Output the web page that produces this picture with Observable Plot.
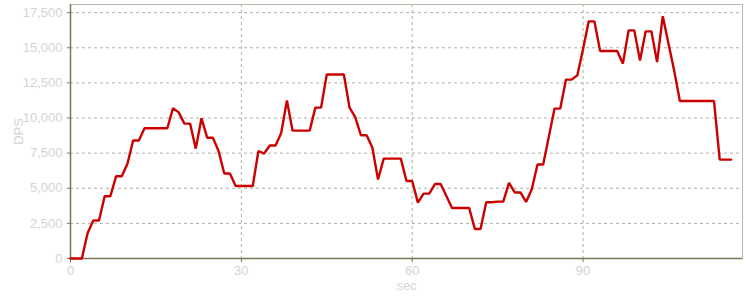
<!DOCTYPE html>
<html><head><meta charset="utf-8">
<script src="https://cdn.jsdelivr.net/npm/d3@7"></script>
<script src="https://cdn.jsdelivr.net/npm/@observablehq/plot@0.6"></script>
<style>
body{margin:0;background:#fff;}
#chart svg{font-family:"Liberation Sans",Arial,sans-serif;}
</style>
</head><body><div id="chart"></div>
<script>
const seconds = d3.range(0, 117);
const dps = [
  0, 0, 0, 1800, 2700, 2700, 4430, 4430, 5850, 5850,
  6750, 8400, 8400, 9270, 9270, 9270, 9270, 9270, 10700, 10400,
  9600, 9600, 7820, 9980, 8600, 8600, 7650, 6050, 6050, 5160,
  5160, 5160, 5160, 7650, 7470, 8040, 8040, 8930, 11250, 9100,
  9100, 9100, 9100, 10740, 10740, 13100, 13100, 13100, 13100, 10740,
  10070, 8770, 8770, 7900, 5620, 7110, 7110, 7110, 7110, 5520,
  5520, 3980, 4620, 4620, 5300, 5300, 4450, 3600, 3600, 3600,
  3600, 2100, 2100, 4000, 4000, 4050, 4060, 5380, 4700, 4700,
  4030, 4930, 6690, 6690, 8680, 10670, 10670, 12730, 12730, 13040,
  14900, 16880, 16880, 14770, 14770, 14770, 14770, 13870, 16240, 16240,
  14100, 16170, 16170, 13980, 17250, 15300, 13380, 11210, 11210, 11210,
  11210, 11210, 11210, 11210, 7040, 7040, 7040
];
const xTicks = [0, 30, 60, 90];
const yTicks = [0, 2500, 5000, 7500, 10000, 12500, 15000, 17500];
const data = seconds.map((t, i) => ({t, v: dps[i]}));

const labelColor = "#d4d4d4";
const chart = Plot.plot({
  width: 750, height: 300,
  marginLeft: 70, marginRight: 8, marginTop: 4, marginBottom: 42,
  style: {fontSize: "11px", fontFamily: "Liberation Sans, Arial, sans-serif", background: "#fff"},
  x: {domain: [0, 118], ticks: xTicks, label: "sec", labelAnchor: "center", labelArrow: "none"},
  y: {domain: [0, 18080], ticks: yTicks, label: "DPS", labelAnchor: "center", labelArrow: "none",
      tickFormat: d => d3.format(",")(d)},
  marks: [
    Plot.gridY(yTicks, {stroke: "#b0b0a0", strokeOpacity: 1, strokeDasharray: "3,3"}),
    Plot.gridX(xTicks, {stroke: "#b0b0a0", strokeOpacity: 1, strokeDasharray: "3,3"}),
    Plot.frame({stroke: "#b8b8a8"}),
    Plot.axisY(yTicks, {color: labelColor, stroke: "#77775a", tickSize: 3, tickPadding: 5,
      label: "DPS", labelAnchor: "center", labelOffset: 57, labelArrow: "none", fontSize: 13,
      tickFormat: d => d3.format(",")(d)}),
    Plot.axisX(xTicks, {color: labelColor, stroke: "#77775a", tickSize: 4, tickPadding: 3,
      label: "sec", labelAnchor: "center", labelOffset: 31, labelArrow: "none", fontSize: 13}),
    Plot.ruleY([0], {stroke: "#77775a", strokeWidth: 1.5}),
    Plot.ruleX([0], {stroke: "#77775a", strokeWidth: 1.5}),
    Plot.line(data, {x: "t", y: "v", stroke: "#cc0000", strokeWidth: 2.4, strokeLinejoin: "miter"})
  ]
});
document.getElementById("chart").append(chart);
</script>
</body></html>
